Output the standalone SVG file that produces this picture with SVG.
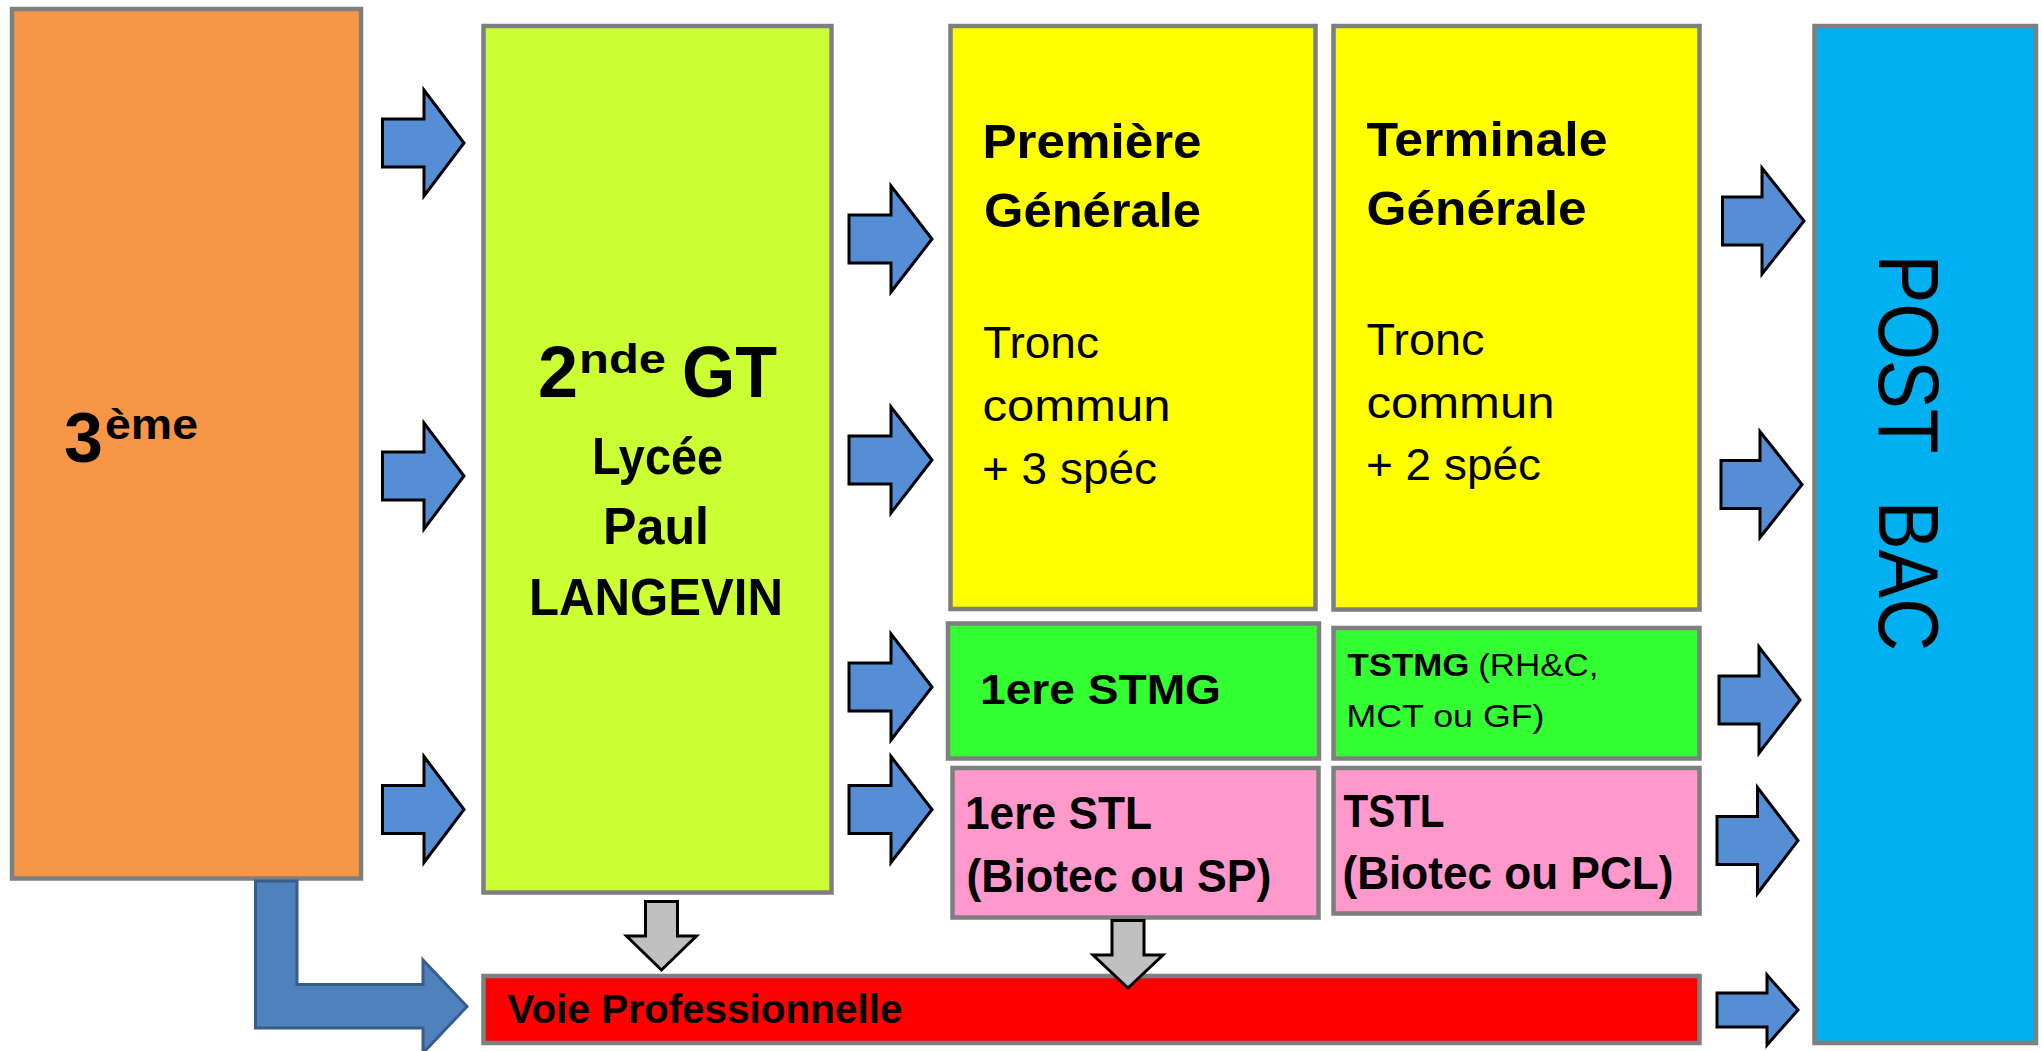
<svg xmlns="http://www.w3.org/2000/svg" width="2042" height="1051" viewBox="0 0 2042 1051">
<style>
.box{stroke:#7F7F7F;stroke-width:4.5}
.arr{fill:#558ED5;stroke:#000;stroke-width:3}
.garr{fill:#C0C0C0;stroke:#000;stroke-width:3}
.lar{fill:#4F81BD;stroke:#385D8A;stroke-width:3}
.t{font-family:"Liberation Sans",Arial,sans-serif;fill:#000}
.b{font-weight:bold}
</style>
<rect width="2042" height="1051" fill="#fff"/>
<g id="n-3eme">
<rect class="box" x="12" y="9" width="349" height="869.5" fill="#F79646"/>
<text class="t b"><tspan x="64" y="462" font-size="70">3</tspan><tspan x="105" y="439" font-size="42" textLength="93" lengthAdjust="spacingAndGlyphs">ème</tspan></text>
</g>
<g id="n-2nde">
<rect class="box" x="483.5" y="26" width="348" height="866.5" fill="#CCFF33"/>
<text class="t b"><tspan x="538" y="397" font-size="72">2</tspan><tspan x="579" y="372.5" font-size="41" textLength="87" lengthAdjust="spacingAndGlyphs">nde</tspan><tspan x="663" y="397" font-size="72" textLength="114" lengthAdjust="spacingAndGlyphs"> GT</tspan></text>
<text class="t b" x="592" y="474" font-size="52" textLength="131" lengthAdjust="spacingAndGlyphs">Lycée</text>
<text class="t b" x="603" y="544" font-size="52" textLength="106" lengthAdjust="spacingAndGlyphs">Paul</text>
<text class="t b" x="529" y="615" font-size="52" textLength="254" lengthAdjust="spacingAndGlyphs">LANGEVIN</text>
</g>
<g id="n-premiere">
<rect class="box" x="950.5" y="26" width="365" height="583" fill="#FFFF00"/>
<text class="t b" x="982.5" y="157.7" font-size="49" textLength="219" lengthAdjust="spacingAndGlyphs">Première</text>
<text class="t b" x="984" y="226.7" font-size="49" textLength="217" lengthAdjust="spacingAndGlyphs">Générale</text>
<text class="t" x="983" y="358" font-size="44" textLength="116" lengthAdjust="spacingAndGlyphs">Tronc</text>
<text class="t" x="982.5" y="421" font-size="44" textLength="188" lengthAdjust="spacingAndGlyphs">commun</text>
<text class="t" x="982" y="483.5" font-size="44" textLength="175" lengthAdjust="spacingAndGlyphs">+ 3 spéc</text>
</g>
<g id="n-terminale">
<rect class="box" x="1333.5" y="26" width="366" height="583.5" fill="#FFFF00"/>
<text class="t b" x="1366.5" y="155.5" font-size="49" textLength="241" lengthAdjust="spacingAndGlyphs">Terminale</text>
<text class="t b" x="1366.5" y="225" font-size="49" textLength="220" lengthAdjust="spacingAndGlyphs">Générale</text>
<text class="t" x="1366.5" y="354.5" font-size="44" textLength="118" lengthAdjust="spacingAndGlyphs">Tronc</text>
<text class="t" x="1366.5" y="417.8" font-size="44" textLength="188" lengthAdjust="spacingAndGlyphs">commun</text>
<text class="t" x="1366" y="480" font-size="44" textLength="175" lengthAdjust="spacingAndGlyphs">+ 2 spéc</text>
</g>
<g id="n-1stmg">
<rect class="box" x="948" y="623.5" width="371" height="135" fill="#33FF33"/>
<text class="t b" x="980" y="703.5" font-size="43" textLength="241" lengthAdjust="spacingAndGlyphs">1ere STMG</text>
</g>
<g id="n-tstmg">
<rect class="box" x="1333.5" y="628" width="366" height="130.5" fill="#33FF33"/>
<text class="t" font-size="31" y="676"><tspan class="b" x="1347.5" textLength="122" lengthAdjust="spacingAndGlyphs">TSTMG</tspan><tspan x="1468.5" textLength="130" lengthAdjust="spacingAndGlyphs"> (RH&amp;C,</tspan></text>
<text class="t" x="1346.5" y="726.5" font-size="31" textLength="198" lengthAdjust="spacingAndGlyphs">MCT ou GF)</text>
</g>
<g id="n-1stl">
<rect class="box" x="952.5" y="768" width="366" height="149.5" fill="#FF99CC"/>
<text class="t b" x="965" y="829" font-size="45.5" textLength="187" lengthAdjust="spacingAndGlyphs">1ere STL</text>
<text class="t b" x="966.5" y="891.5" font-size="45.5" textLength="305" lengthAdjust="spacingAndGlyphs">(Biotec ou SP)</text>
</g>
<g id="n-tstl">
<rect class="box" x="1333.5" y="768" width="366" height="145.5" fill="#FF99CC"/>
<text class="t b" x="1343.5" y="826.6" font-size="45.5" textLength="101" lengthAdjust="spacingAndGlyphs">TSTL</text>
<text class="t b" x="1342.5" y="889" font-size="45.5" textLength="331" lengthAdjust="spacingAndGlyphs">(Biotec ou PCL)</text>
</g>
<g id="n-voiepro">
<rect class="box" x="483.5" y="976" width="1216" height="67" fill="#FF0000"/>
<text class="t b" x="507.5" y="1023" font-size="41.3" textLength="395" lengthAdjust="spacingAndGlyphs">Voie Professionnelle</text>
</g>
<g id="n-postbac">
<rect class="box" x="1814.5" y="26" width="221.5" height="1017" fill="#00B0F0"/>
<text class="t" font-size="85" transform="translate(1879,254.4) rotate(90) scale(0.86,1)">POST <tspan dx="33">BAC</tspan></text>
</g>
<g id="connectors">
<polygon class="lar" points="255.5,881 297,881 297,984.5 423,984.5 423,960 467,1006.5 423,1053 423,1028 255.5,1028"/>
<polygon class="arr" points="382.5,119 424,119 424,90 464,143 424,196 424,167 382.5,167"/>
<polygon class="arr" points="382.5,452 424,452 424,423 464,476 424,529 424,500 382.5,500"/>
<polygon class="arr" points="382.5,785.5 424,785.5 424,756.5 464,809.5 424,862.5 424,833.5 382.5,833.5"/>
<polygon class="arr" points="849,215 891,215 891,186 932,239 891,292 891,263 849,263"/>
<polygon class="arr" points="849,436 891,436 891,407 932,460 891,513 891,484 849,484"/>
<polygon class="arr" points="849,663 891,663 891,634 932,687 891,740 891,711 849,711"/>
<polygon class="arr" points="849,785.5 891,785.5 891,756.5 932,809.5 891,862.5 891,833.5 849,833.5"/>
<polygon class="arr" points="1722.5,197 1762,197 1762,168 1804,221 1762,274 1762,245 1722.5,245"/>
<polygon class="arr" points="1721,460.5 1760,460.5 1760,431.5 1802,484.5 1760,537.5 1760,508.5 1721,508.5"/>
<polygon class="arr" points="1719,676 1759,676 1759,647 1800,700 1759,753 1759,724 1719,724"/>
<polygon class="arr" points="1717,816.5 1757.5,816.5 1757.5,787.5 1798,840.5 1757.5,893.5 1757.5,864.5 1717,864.5"/>
<polygon class="arr" points="1717,993 1767,993 1767,975 1798,1010 1767,1045 1767,1027 1717,1027"/>
<polygon class="garr" points="645.5,901.5 677.5,901.5 677.5,936 696.5,936 661.5,970 626.5,936 645.5,936"/>
<polygon class="garr" points="1112,920.5 1144,920.5 1144,955 1163,955 1128,988 1093,955 1112,955"/>
</g>
</svg>
